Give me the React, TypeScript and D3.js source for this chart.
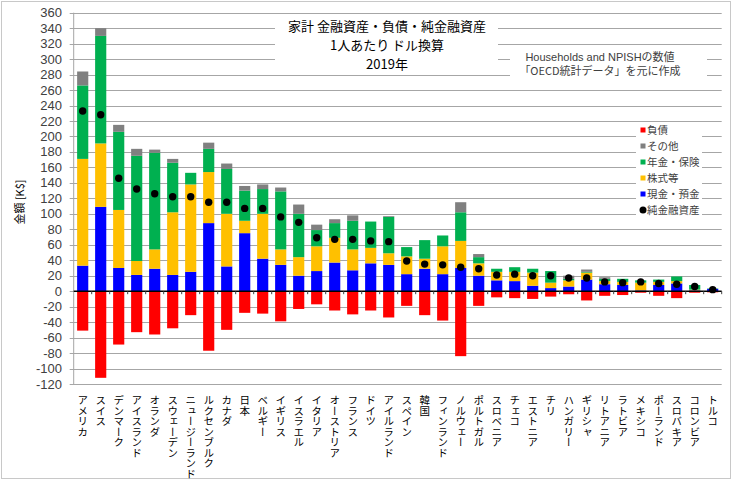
import React from "react";
import * as d3 from "d3";

const countries = ["アメリカ","スイス","デンマーク","アイスランド","オランダ","スウェーデン","ニュージーランド","ルクセンブルク","カナダ","日本","ベルギー","イギリス","イスラエル","イタリア","オーストリア","フランス","ドイツ","アイルランド","スペイン","韓国","フィンランド","ノルウェー","ポルトガル","スロベニア","チェコ","エストニア","チリ","ハンガリー","ギリシャ","リトアニア","ラトビア","メキシコ","ポーランド","スロバキア","コロンビア","トルコ"];
const cash = [33,109,30,21,29,21,25,88,32,75,42,34,20,26,37,27,36,34,22,29,22,30,20,14,13,7,4,6,15,9,8,1,8,10,1,3];
const equity = [138,82,75,18,25,81,113,66,68,16,58,20,24,32,32,27,20,15,23,13,36,35,16,11,12,17,7,8,9,4,4,10,4,3,1,0];
const pension = [95,139,101,136,125,64,15,30,58,39,32,75,56,21,19,37,34,47,12,24,14,37,8,4,6,5,15,2,1,3,4,3,3,6,6,0.5];
const other = [18,10,9,9,4,5,0,8,7,6,6,5,12,7,5,7,0,1,0,0,0,13,4,0,0,0,0,4,3,2,0,0,0,0,0,0];
const debt = [-51,-112,-69,-53,-56,-48,-31,-77,-50,-28,-29,-39,-23,-17,-25,-30,-25,-34,-19,-31,-38,-84,-19,-8,-9,-10,-7,-4,-12,-6,-5,-2,-6,-9,-2,-1.5];
const net = [233,228,146,132,126,122,122,115,115,107,107,96,89,69,67,67,65,64,39,35,34,31,29,21,22,20,20,17,17,12,11,12,10,9,6,2];
const yTicks = [-120,-100,-80,-60,-40,-20,0,20,40,60,80,100,120,140,160,180,200,220,240,260,280,300,320,340,360];

const seriesColors = ["#0000FF","#FFC000","#00B050","#808080"];
const debtColor = "#FF0000";
const legendItems = [
  { name: "負債", color: debtColor, dot: false },
  { name: "その他", color: "#808080", dot: false },
  { name: "年金・保険", color: "#00B050", dot: false },
  { name: "株式等", color: "#FFC000", dot: false },
  { name: "現金・預金", color: "#0000FF", dot: false },
  { name: "純金融資産", color: "#000", dot: true },
];
const titleLines = ["家計 金融資産・負債・純金融資産", "1人あたり ドル換算", "2019年"];

const LAT = "'Liberation Sans', Arial, 'Noto Sans CJK JP', sans-serif";
const JP = "'Noto Sans CJK JP', 'Liberation Sans', sans-serif";

export default function App() {
  const W = 735, H = 481;
  const left = 73.7, right = 721.7;
  const y = d3.scaleLinear().domain([-120, 360]).range([384, 12.7]);
  const x = d3.scaleBand<string>().domain(countries).range([left, right]).paddingInner(0.38).paddingOuter(0.19);
  const step = x.step();

  const table = countries.map((c, i) => ({ country: c, s0: cash[i], s1: equity[i], s2: pension[i], s3: other[i] }));
  const stack = d3.stack<any>().keys(["s0", "s1", "s2", "s3"])(table);

  return (
    <svg width={W} height={H} style={{ position: "absolute", left: 0, top: 0, background: "#fff" }}>
      <rect x={1.5} y={1.5} width={729} height={477} fill="#fff" stroke="#c8c8c8" strokeWidth={1} />
      {yTicks.map(t => (
        <g key={t}>
          <line x1={left - 4} x2={right} y1={Math.round(y(t)) + 0.5} y2={Math.round(y(t)) + 0.5} stroke="#a6a6a6" strokeWidth={1} />
          <text x={62} y={y(t)} dy="0.35em" textAnchor="end" fontFamily={LAT} fontSize={13} fill="#404040">{t}</text>
        </g>
      ))}
      <line x1={left} x2={left} y1={y(360)} y2={y(-120)} stroke="#a6a6a6" strokeWidth={1} />
      <rect x={275} y={16} width={223} height={56} fill="#fff" />
      {titleLines.map((t, i) => (
        <text key={i} x={387} y={26.5 + i * 19} dy="0.35em" textAnchor="middle" fontFamily={JP} fontSize={13} fill="#000">{t}</text>
      ))}
      <rect x={510} y={49} width={197} height={31} fill="#fff" />
      <text x={600} y={57} dy="0.35em" textAnchor="middle" fontFamily={LAT} fontSize={11} fill="#404040">Households and NPISHの数値</text>
      <text x={600} y={71} dy="0.35em" textAnchor="middle" fontFamily={JP} fontSize={11} fill="#404040">「OECD統計データ」を元に作成</text>
      <rect x={636} y={122} width={66} height={96} fill="#fff" />
      {legendItems.map((it, i) => {
        const cy = 130 + i * 16;
        return (
          <g key={it.name}>
            {it.dot
              ? <circle cx={643} cy={cy} r={3.5} fill="#000" />
              : <rect x={640.5} y={cy - 2.5} width={5} height={5} fill={it.color} />}
            <text x={647} y={cy} dy="0.35em" fontFamily={JP} fontSize={10.5} fill="#404040">{it.name}</text>
          </g>
        );
      })}
      {stack.map((layer, k) => (
        <g key={k} fill={seriesColors[k]}>
          {layer.map((d, i) => (
            <rect key={i} x={x(countries[i])} width={x.bandwidth()} y={y(d[1])} height={Math.max(0, y(d[0]) - y(d[1]))} />
          ))}
        </g>
      ))}
      <g fill={debtColor}>
        {debt.map((v, i) => (
          <rect key={i} x={x(countries[i])} width={x.bandwidth()} y={y(0)} height={y(v) - y(0)} />
        ))}
      </g>
      <line x1={left} x2={right} y1={y(0)} y2={y(0)} stroke="#000" strokeWidth={1.5} />
      {countries.map((c, i) => (
        <line key={c} x1={left + step * (i + 1)} x2={left + step * (i + 1)} y1={y(0)} y2={y(0) + 3} stroke="#404040" strokeWidth={1} />
      ))}
      {net.map((v, i) => (
        <circle key={i} cx={(x(countries[i]) as number) + x.bandwidth() / 2} cy={y(v)} r={3.7} fill="#000" />
      ))}
      {countries.map(c => (
        <text key={c} x={(x(c) as number) + x.bandwidth() / 2} y={395} writingMode="vertical-rl" fontFamily={JP} fontSize={10.5} fill="#000" style={{ writingMode: "vertical-rl" } as any}>{c}</text>
      ))}
      <text transform={`translate(20,202) rotate(-90)`} textAnchor="middle" dy="0.35em" fontFamily={JP} fontSize={11} fill="#000">金額 [K$]</text>
    </svg>
  );
}
